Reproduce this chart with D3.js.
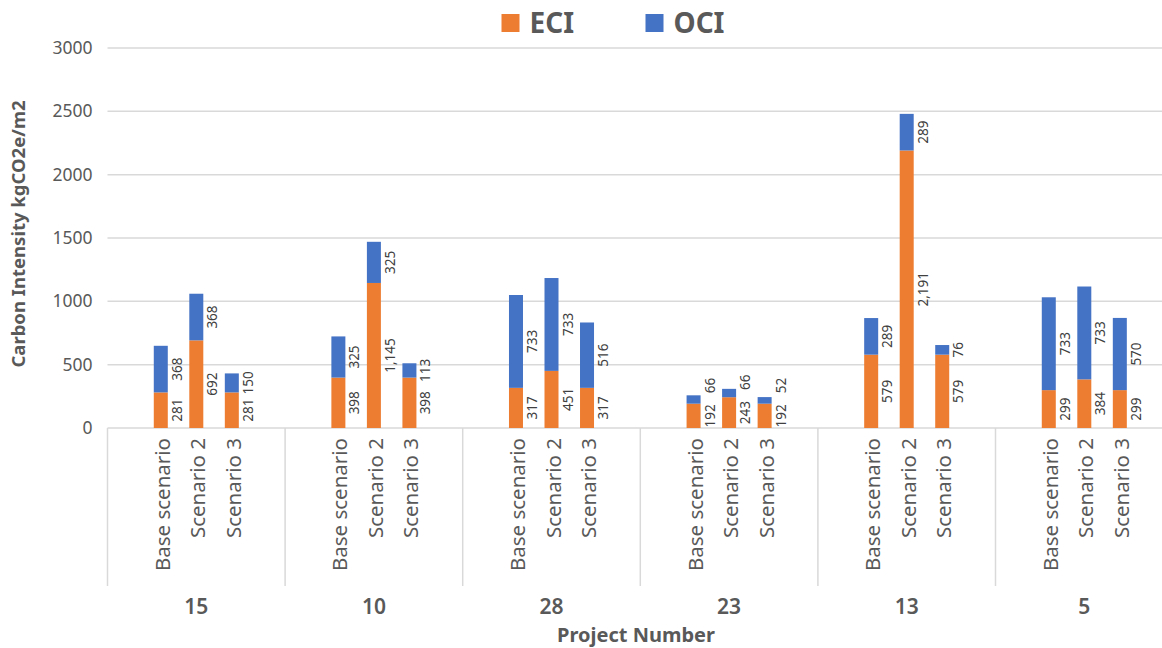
<!DOCTYPE html>
<html><head><meta charset="utf-8">
<script src="https://cdn.jsdelivr.net/npm/d3@7"></script>
<style>
html,body{margin:0;padding:0;background:#fff;overflow:hidden}
text{font-family:"Noto Sans",sans-serif}
</style></head>
<body><svg id="c" width="1162" height="648"></svg>
<script>
const projects = ["15", "10", "28", "23", "13", "5"];
const scenarios = ["Base scenario", "Scenario 2", "Scenario 3"];
const eciValues = [[281, 692, 281], [398, 1145, 398], [317, 451, 317], [192, 243, 192], [579, 2191, 579], [299, 384, 299]];
const ociValues = [[368, 368, 150], [325, 325, 113], [733, 733, 516], [66, 66, 52], [289, 289, 76], [733, 733, 570]];
const yTicks = [0, 500, 1000, 1500, 2000, 2500, 3000];
const seriesNames = ["ECI", "OCI"];
const colors = ["#ED7D31", "#4472C4"];

(function () {
const svg = d3.select("#c");
const left = 107.5, groupW = 177.6, plotTop = 48, plotBottom = 428;
const x0 = d3.scaleBand().domain(projects).range([left, left + groupW * projects.length]).padding(0);
const x1 = d3.scaleBand().domain(scenarios).range([0, groupW]).paddingOuter(1).paddingInner(0);
const y = d3.scaleLinear().domain([0, 3000]).range([plotBottom, plotTop]);
const barW = 14;
const grey = "#595959";

// gridlines
svg.append("g").selectAll("line").data(yTicks.filter(d => d > 0)).join("line")
  .attr("x1", left).attr("x2", x0.range()[1]).attr("y1", d => y(d)).attr("y2", d => y(d))
  .attr("stroke", "#d9d9d9").attr("stroke-width", 1.5);

// y axis tick labels
const yAxis = d3.axisLeft(y).tickValues(yTicks).tickSize(0).tickPadding(15).tickFormat(d3.format("d"));
const ya = svg.append("g").attr("transform", `translate(${left},0)`).call(yAxis);
ya.select(".domain").remove();
ya.selectAll("text").attr("font-size", 17.5).attr("fill", grey).attr("font-family", "Noto Sans");

// x axis line and separators
svg.append("line").attr("x1", left).attr("x2", x0.range()[1]).attr("y1", plotBottom).attr("y2", plotBottom)
  .attr("stroke", "#d9d9d9").attr("stroke-width", 1.5);
const seps = projects.map(p => x0(p)).concat([x0.range()[1]]);
svg.append("g").selectAll("line").data(seps).join("line")
  .attr("x1", d => d).attr("x2", d => d).attr("y1", plotBottom).attr("y2", 586)
  .attr("stroke", "#d9d9d9").attr("stroke-width", 1.5);

// bars and labels
const fmt = d3.format(",");
projects.forEach((p, gi) => {
  const g = svg.append("g").attr("transform", `translate(${x0(p)},0)`);
  scenarios.forEach((s, si) => {
    const cx = x1(s) + x1.bandwidth() / 2;
    const e = eciValues[gi][si], o = ociValues[gi][si];
    const segs = [[0, e], [e, e + o]];
    segs.forEach((sg, k) => {
      g.append("rect").attr("x", cx - barW / 2).attr("width", barW)
        .attr("y", y(sg[1])).attr("height", y(sg[0]) - y(sg[1])).attr("fill", colors[k]);
    });
    const lab = [];
    segs.forEach((sg, k) => {
      const t = g.append("text").text(fmt(sg[1] - sg[0]))
        .attr("font-size", 13.5).attr("fill", "#404040")
        .attr("text-anchor", "middle").attr("dominant-baseline", "central");
      lab.push({t, c: (y(sg[0]) + y(sg[1])) / 2, len: t.node().getComputedTextLength()});
    });
    const lo = lab[0], hi = lab[1];
    const loTop = lo.c - lo.len / 2;
    if (hi.c + hi.len / 2 > loTop - 2) hi.c = loTop - 11 - hi.len / 2;
    lab.forEach(l => l.t.attr("transform", `translate(${cx + barW / 2 + 9},${l.c}) rotate(-90)`));
    g.append("text").text(s).attr("font-size", 20.5).attr("fill", grey)
      .attr("text-anchor", "end").attr("dominant-baseline", "central")
      .attr("transform", `translate(${cx + 1},438) rotate(-90)`);
  });
  g.append("text").text(p).attr("x", groupW / 2).attr("y", 614).attr("text-anchor", "middle")
    .attr("font-size", 21).attr("font-weight", 600).attr("fill", grey);
});

// axis titles
svg.append("text").text("Project Number").attr("x", 636).attr("y", 642).attr("text-anchor", "middle")
  .attr("font-size", 20).attr("font-weight", "bold").attr("fill", grey);
svg.append("text").text("Carbon Intensity kgCO2e/m2").attr("text-anchor", "middle")
  .attr("transform", "translate(25,234) rotate(-90)")
  .attr("font-size", 18.5).attr("font-weight", "bold").attr("fill", grey);

// legend
const legX = [501.5, 645.5];
seriesNames.forEach((n, i) => {
  svg.append("rect").attr("x", legX[i]).attr("y", 14).attr("width", 18).attr("height", 18).attr("fill", colors[i]);
  svg.append("text").text(n).attr("x", legX[i] + 28).attr("y", 33)
    .attr("font-size", 28).attr("font-weight", "bold").attr("fill", grey);
});
})();
</script></body></html>
